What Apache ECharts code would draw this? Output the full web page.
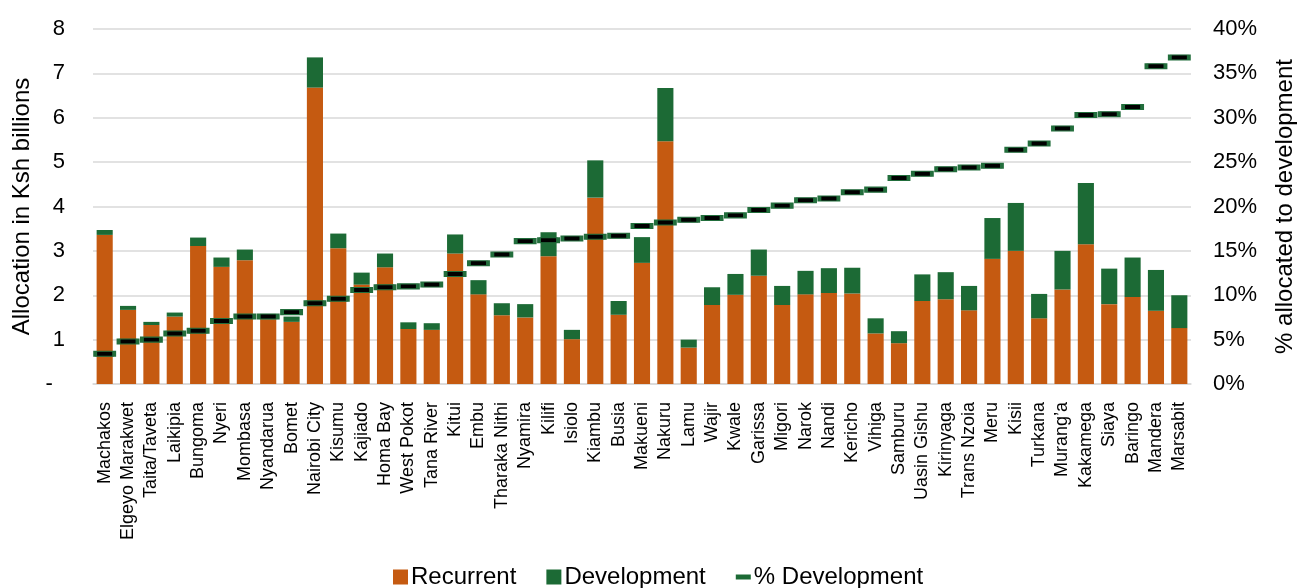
<!DOCTYPE html>
<html>
<head>
<meta charset="utf-8">
<script src="https://cdn.jsdelivr.net/npm/echarts@6/dist/echarts.min.js"></script>
<style>
html,body{margin:0;padding:0;background:#fff;}
#chart{width:1297px;height:588px;}
</style>
</head>
<body>
<div id="chart"></div>
<script>
const categories = ["Machakos","Elgeyo Marakwet","Taita/Taveta","Laikipia","Bungoma","Nyeri","Mombasa","Nyandarua","Bomet","Nairobi City","Kisumu","Kajiado","Homa Bay","West Pokot","Tana River","Kitui","Embu","Tharaka Nithi","Nyamira","Kilifi","Isiolo","Kiambu","Busia","Makueni","Nakuru","Lamu","Wajir","Kwale","Garissa","Migori","Narok","Nandi","Kericho","Vihiga","Samburu","Uasin Gishu","Kirinyaga","Trans Nzoia","Meru","Kisii","Turkana","Murang’a","Kakamega","Siaya","Baringo","Mandera","Marsabit"];

const recurrent = [3.36,1.67,1.33,1.52,3.11,2.64,2.79,1.46,1.40,6.68,3.06,2.24,2.63,1.24,1.22,2.94,2.02,1.55,1.50,2.88,1.01,4.20,1.56,2.73,5.47,0.82,1.78,2.01,2.44,1.78,2.02,2.05,2.04,1.14,0.92,1.87,1.91,1.66,2.82,3.00,1.48,2.13,3.15,1.80,1.96,1.65,1.26];

const development = [0.11,0.09,0.07,0.09,0.19,0.21,0.24,0.12,0.12,0.68,0.33,0.27,0.31,0.15,0.15,0.43,0.32,0.27,0.30,0.54,0.21,0.84,0.31,0.58,1.20,0.18,0.40,0.47,0.59,0.43,0.53,0.56,0.58,0.34,0.27,0.60,0.61,0.55,0.92,1.08,0.55,0.87,1.38,0.80,0.89,0.92,0.74];

const pctDevelopment = [3.4,4.8,5.0,5.7,6.0,7.1,7.6,7.6,8.1,9.1,9.6,10.6,10.9,11.0,11.2,12.4,13.6,14.6,16.1,16.2,16.4,16.6,16.7,17.8,18.2,18.5,18.7,19.0,19.6,20.1,20.7,20.9,21.6,21.9,23.2,23.7,24.2,24.4,24.6,26.4,27.1,28.8,30.3,30.4,31.2,35.8,36.8];

const FONT = "'Liberation Sans', Arial, sans-serif";
const ORANGE = '#C55A11';
const GREEN = '#1C6A35';

const chart = echarts.init(document.getElementById('chart'), null, {renderer:'canvas'});
chart.setOption({
  animation: false,
  backgroundColor: '#fff',
  textStyle: {fontFamily: FONT},
  grid: {left: 93, right: 106, top: 29, bottom: 204, containLabel: false, outerBoundsMode: 'none'},
  legend: {
    bottom: -6,
    left: 388,
    itemWidth: 15,
    itemHeight: 15,
    itemGap: 30,
    textStyle: {fontFamily: FONT, fontSize: 24, color: '#000', padding:[0,0,0,-2]},
    data: [
      {name: 'Recurrent', icon: 'rect'},
      {name: 'Development', icon: 'rect'},
      {name: '% Development', icon: 'path://M0,0 L12,0 L12,4 L0,4 Z', itemStyle: {color: GREEN, borderWidth: 0}}
    ]
  },
  xAxis: {
    type: 'category',
    data: categories,
    axisLine: {lineStyle: {color: '#D9D9D9', width: 1.5}},
    axisTick: {show: false},
    axisLabel: {rotate: 90, interval: 0, margin: 18, fontSize: 18, color: '#000', fontFamily: FONT}
  },
  yAxis: [
    {
      type: 'value', min: 0, max: 8, interval: 1,
      name: 'Allocation in Ksh billions', nameLocation: 'middle', nameGap: 57, nameRotate: 90,
      nameTextStyle: {fontSize: 24, color: '#000', fontFamily: FONT},
      axisLabel: {fontSize: 22, color: '#000', margin: 28, fontFamily: FONT,
        formatter: v => v === 0 ? '-  ' : String(v)},
      axisLine: {show: false}, axisTick: {show: false},
      splitLine: {lineStyle: {color: '#D9D9D9', width: 1.5}}
    },
    {
      type: 'value', min: 0, max: 40, interval: 5,
      name: '% allocated to development', nameLocation: 'middle', nameGap: 82, nameRotate: 90,
      nameTextStyle: {fontSize: 24, color: '#000', fontFamily: FONT},
      axisLabel: {fontSize: 22, color: '#000', margin: 22, fontFamily: FONT, formatter: '{value}%'},
      axisLine: {show: false}, axisTick: {show: false},
      splitLine: {show: false}
    }
  ],
  series: [
    {
      name: 'Recurrent', type: 'bar', stack: 'total', data: recurrent,
      barCategoryGap: '31%',
      itemStyle: {color: ORANGE}
    },
    {
      name: 'Development', type: 'bar', stack: 'total', data: development,
      itemStyle: {color: GREEN}
    },
    {
      name: '% Development', type: 'scatter', yAxisIndex: 1, data: pctDevelopment,
      symbol: 'rect', symbolSize: [19, 5],
      itemStyle: {color: '#000', borderColor: '#226E3C', borderWidth: 2, opacity: 1},
      z: 5
    }
  ]
});
</script>
</body>
</html>
